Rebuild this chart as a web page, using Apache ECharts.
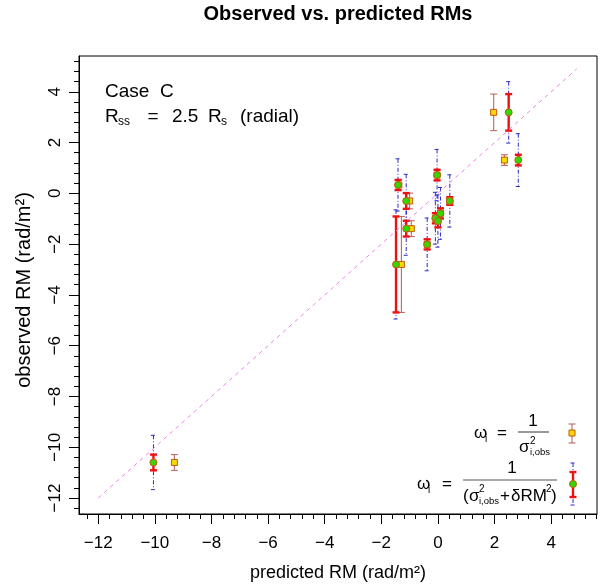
<!DOCTYPE html>
<html><head><meta charset="utf-8">
<script src="https://cdn.jsdelivr.net/npm/echarts@6/dist/echarts.min.js"></script>
<style>html,body{margin:0;padding:0;background:#fff}#c{width:600px;height:585px}</style>
</head><body><div id="c"></div>
<script>
// ---- data ----
const observedRM   = [3.19, 1.31, -10.60, 0.33, -0.30, -1.39, -2.80, 0.72, -0.30, -0.79, -0.98, -1.09, -2.01];
const predictedDRM = [2.50, 2.84, -10.05, -1.41, -1.12, -1.12, -1.48, -0.03, 0.42, 0.09, -0.09, 0.00, -0.38]; // green, w = 1/(s^2+dRM^2)
const predictedObs = [1.97, 2.35, -9.31, -1.38, -1.00, -0.94, -1.29, -0.03, 0.42, 0.09, -0.09, 0.00, -0.38];  // yellow, w = 1/s^2
const sigmaObs     = [0.72, 0.21, 0.31, 0.20, 0.31, 0.31, 1.89, 0.21, 0.15, 0.20, 0.20, 0.25, 0.20];
const sigmaTotal   = [1.21, 1.04, 1.07, 1.03, 1.05, 1.05, 2.15, 1.01, 1.03, 1.02, 1.02, 1.03, 1.04];
const diagLine     = [[-12, -12], [4.9, 4.9]];
const xTicks = [-12, -10, -8, -6, -4, -2, 0, 2, 4];
const yTicks = [-12, -10, -8, -6, -4, -2, 0, 2, 4];
const xMinor = [], yMinor = [];
for (let k = -31; k <= 14; k++) xMinor.push(+(k * 0.4).toFixed(1));
for (let k = -31; k <= 13; k++) yMinor.push(+(k * 0.4).toFixed(1));

const FF = '"Liberation Sans", Arial, Helvetica, sans-serif';
const xMin = -12.68, xMax = 5.62, yMin = -12.63, yMax = 5.41;
const fmt = v => String(v).replace('-', '\u2212');

const RED = '#ee1111', BROWN = '#bb6a60', BLUE = '#2a2acc', GREEN = '#33d600', YELLOW = '#f7d800', EDGE = '#c25a10';

function errBar(color, width, cap, dash) {
  return function (params, api) {
    const x = api.value(0), y = api.value(1), e = api.value(2);
    const t = api.coord([x, y + e]), b = api.coord([x, y - e]);
    const st = { stroke: color, lineWidth: width, lineDash: dash || null, fill: null };
    return { type: 'group', children: [
      { type: 'line', shape: { x1: t[0], y1: t[1], x2: b[0], y2: b[1] }, style: st },
      { type: 'line', shape: { x1: t[0] - cap, y1: t[1], x2: t[0] + cap, y2: t[1] }, style: st },
      { type: 'line', shape: { x1: b[0] - cap, y1: b[1], x2: b[0] + cap, y2: b[1] }, style: st }
    ]};
  };
}
function T(x, y, text, size, align, o) {
  o = o || {};
  return { type: 'text', x: x, y: y, rotation: o.rot || 0, z: 100,
    style: { text: text, fontSize: size, fontFamily: FF, fontWeight: o.bold ? 'bold' : 'normal',
      fill: '#000', align: align || 'left', verticalAlign: 'middle' } };
}
function L(x1, y1, x2, y2, color, w, dash) {
  return { type: 'line', z: 100, shape: { x1: x1, y1: y1, x2: x2, y2: y2 },
    style: { stroke: color, lineWidth: w, lineDash: dash || null } };
}
function vbar(x, y1, y2, cap, color, w, dash) {
  return [L(x, y1, x, y2, color, w, dash), L(x - cap, y1, x + cap, y1, color, w, dash), L(x - cap, y2, x + cap, y2, color, w, dash)];
}

const chart = echarts.init(document.getElementById('c'));
const axisCommon = { type: 'value', splitLine: { show: false } };
const option = {
  animation: false,
  grid: { left: 79, right: 3, top: 56, bottom: 71, show: true, borderColor: '#000', borderWidth: 1 },
  xAxis: [
    Object.assign({}, axisCommon, { min: xMin, max: xMax,
      axisLine: { show: true, onZero: false, lineStyle: { color: '#000', width: 1 } },
      axisTick: { show: true, customValues: xTicks, length: 10, lineStyle: { color: '#000' } },
      axisLabel: { customValues: xTicks, formatter: fmt, fontSize: 17, fontFamily: FF, color: '#000', margin: 21 } }),
    Object.assign({}, axisCommon, { min: xMin, max: xMax, position: 'bottom',
      axisLine: { show: false, onZero: false },
      axisTick: { show: true, customValues: xMinor, length: 5, lineStyle: { color: '#000' } },
      axisLabel: { show: false } })
  ],
  yAxis: [
    Object.assign({}, axisCommon, { min: yMin, max: yMax,
      axisLine: { show: true, onZero: false, lineStyle: { color: '#000', width: 1 } },
      axisTick: { show: true, customValues: yTicks, length: 10, lineStyle: { color: '#000' } },
      axisLabel: { customValues: yTicks, formatter: fmt, fontSize: 17, fontFamily: FF, color: '#000', margin: 15, rotate: 90 } }),
    Object.assign({}, axisCommon, { min: yMin, max: yMax, position: 'left',
      axisLine: { show: false, onZero: false },
      axisTick: { show: true, customValues: yMinor, length: 5, lineStyle: { color: '#000' } },
      axisLabel: { show: false } })
  ],
  series: [
    { type: 'line', data: diagLine, symbol: 'none', silent: true,
      lineStyle: { color: '#ee82ee', width: 1, type: [4, 4] } },
    { type: 'custom', renderItem: errBar(BLUE, 1, 2.5, [4, 2, 1, 2]),
      data: predictedDRM.map((x, i) => [x, observedRM[i], sigmaTotal[i]]) },
    { type: 'custom', renderItem: errBar(BROWN, 1.1, 3.5),
      data: predictedObs.map((x, i) => [x, observedRM[i], sigmaObs[i]]) },
    { type: 'scatter', symbol: 'rect', symbolSize: 6,
      itemStyle: { color: YELLOW, borderColor: EDGE, borderWidth: 1, opacity: 1 },
      data: predictedObs.map((x, i) => [x, observedRM[i]]) },
    { type: 'custom', renderItem: errBar(RED, 2.4, 3.5),
      data: predictedDRM.map((x, i) => [x, observedRM[i], sigmaObs[i]]) },
    { type: 'scatter', symbol: 'circle', symbolSize: 7,
      itemStyle: { color: GREEN, borderColor: EDGE, borderWidth: 1, opacity: 1 },
      data: predictedDRM.map((x, i) => [x, observedRM[i]]) }
  ],
  graphic: [].concat(
    [
      T(338, 14, 'Observed vs. predicted RMs', 20, 'center', { bold: true }),
      T(338, 573, 'predicted RM (rad/m²)', 18, 'center'),
      T(24, 290, 'observed RM (rad/m²)', 20, 'center', { rot: Math.PI / 2 }),
      T(105, 92, 'Case  C', 19),
      T(105, 117, 'R', 19), T(118, 122, 'ss', 12), T(153, 117, '=', 19, 'center'),
      T(172, 117, '2.5', 19), T(208, 117, 'R', 19), T(221, 122, 's', 12), T(240, 117, '(radial)', 19),
      // legend row 1
      T(474, 433, 'ω', 17), T(485, 439, 'i', 10), T(502, 433, '=', 17, 'center'),
      T(533, 421, '1', 17, 'center'), L(518, 432, 549, 432, '#555', 1.2),
      T(519, 447, 'σ', 17), T(530, 441, '2', 10), T(530, 452, 'i,obs', 9.5),
      // legend row 2
      T(417, 484, 'ω', 17), T(428, 490, 'i', 10), T(447, 484, '=', 17, 'center'),
      T(512, 468, '1', 17, 'center'), L(463, 480, 557, 480, '#555', 1.2),
      T(463, 496, '(', 17), T(469, 496, 'σ', 17), T(479, 489, '2', 10), T(479, 501, 'i,obs', 9.5),
      T(505, 496, '+', 17, 'center'), T(511, 496, 'δRM', 17), T(546, 489, '2', 10), T(551, 496, ')', 17)
    ],
    vbar(572, 424, 443, 3.5, BROWN, 1.1),
    [{ type: 'rect', z: 101, shape: { x: 569, y: 430, width: 6, height: 6 }, style: { fill: YELLOW, stroke: EDGE, lineWidth: 1 } }],
    vbar(573, 463, 505, 2.5, BLUE, 1, [4, 2, 1, 2]),
    vbar(573, 472, 497, 3.5, RED, 2.4),
    [{ type: 'circle', z: 101, shape: { cx: 573, cy: 484, r: 3.5 }, style: { fill: GREEN, stroke: EDGE, lineWidth: 1 } }]
  )
};
chart.setOption(option);
</script></body></html>
